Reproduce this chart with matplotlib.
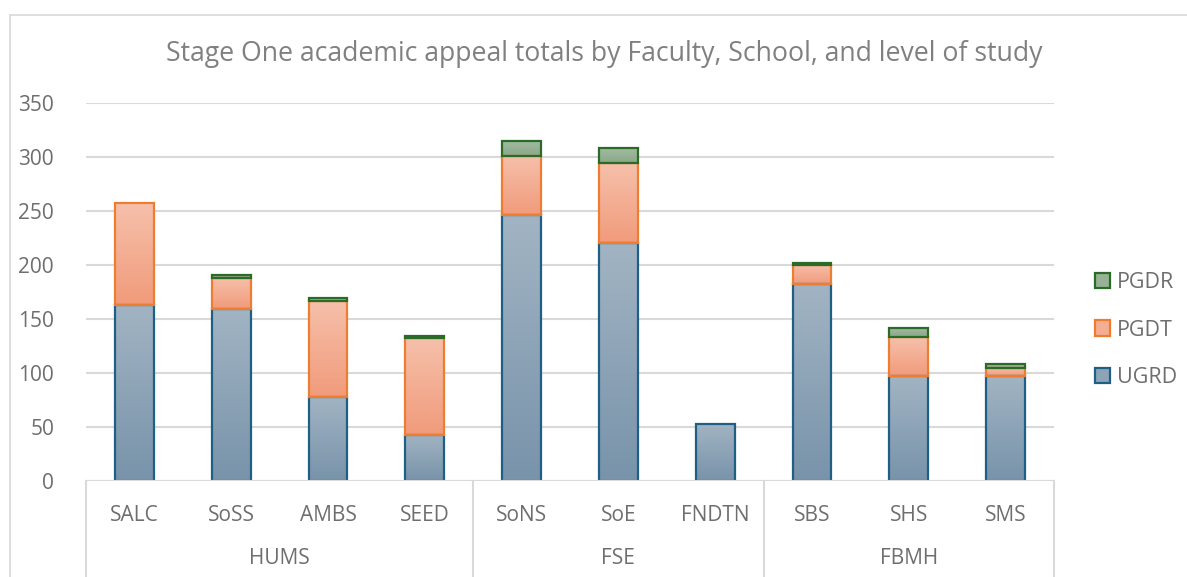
import numpy as np
import matplotlib
matplotlib.use("Agg")
import matplotlib.pyplot as plt
from matplotlib.patches import Patch
from matplotlib.lines import Line2D
from matplotlib.colors import LinearSegmentedColormap
import matplotlib.transforms as mtransforms

plt.rcParams['font.family'] = ['Open Sans', 'DejaVu Sans']

# ---- data ----
schools = ["SALC", "SoSS", "AMBS", "SEED", "SoNS", "SoE", "FNDTN", "SBS", "SHS", "SMS"]
faculties = ["HUMS", "FSE", "FBMH"]
faculty_sizes = [4, 3, 3]
ugrd = [163, 159, 78, 43, 246, 220, 53, 182, 97, 97]
pgdt = [94, 29, 89, 89, 55, 74, 0, 18, 36, 8]
pgdr = [0, 3, 2, 2, 14, 14, 0, 2, 9, 3]
yticks = [0, 50, 100, 150, 200, 250, 300, 350]

W, H = 1187, 577
fig = plt.figure(figsize=(W / 100, H / 100), dpi=100)
ax = fig.add_axes([86 / W, 1 - 481 / H, (1054 - 86) / W, (481 - 103) / H])

grid_c = "#D9D9D9"
text_c = "#6E6E6E"
title_c = "#808080"

series = [
    ("UGRD", ugrd, "#A2B4C3", "#7893AA", "#1F5F85"),
    ("PGDT", pgdt, "#F6C0AB", "#F19B7B", "#ED7D31"),
    ("PGDR", pgdr, "#A3BCA2", "#8AA889", "#2A6B28"),
]

x = np.arange(len(schools))
bottom = np.zeros(len(schools))
grad = np.linspace(1, 0, 256).reshape(-1, 1)
handles = {}
for name, vals, ctop, cbot, edge in series:
    vals = np.array(vals, dtype=float)
    cmap = LinearSegmentedColormap.from_list(name, [cbot, ctop])
    bars = ax.bar(x, vals, bottom=bottom, width=0.4, facecolor="none",
                  edgecolor=edge, linewidth=1.6, zorder=4)
    for b, v in zip(bars, vals):
        if v <= 0:
            b.set_visible(False)
            continue
        x0, y0 = b.get_x(), b.get_y()
        im = ax.imshow(grad, extent=[x0, x0 + b.get_width(), y0, y0 + b.get_height()],
                       aspect="auto", cmap=cmap, vmin=0, vmax=1, zorder=3,
                       interpolation="bilinear")
        im.set_clip_path(b)
    handles[name] = Patch(facecolor=matplotlib.colors.to_hex(cmap(0.5)), edgecolor=edge, linewidth=1.6)
    bottom = bottom + vals

ax.set_xlim(-0.5, len(schools) - 0.5)
ax.set_ylim(0, 350)
ax.set_yticks(yticks)
ax.set_yticklabels([str(t) for t in yticks])
ax.yaxis.grid(True, color=grid_c, linewidth=1.5, zorder=0)
ax.set_axisbelow(True)
for s in ax.spines.values():
    s.set_visible(False)
ax.tick_params(axis="y", length=0, pad=23, labelsize=15, labelcolor=text_c)
ax.set_xticks(x)
ax.set_xticklabels(schools)
ax.tick_params(axis="x", length=0, pad=17, labelsize=15, labelcolor=text_c)

# category axis line
ax.axhline(0, color=grid_c, linewidth=1.5, zorder=5)

# group separators and labels
trans = mtransforms.blended_transform_factory(ax.transData, ax.transAxes)
bounds = np.concatenate([[0], np.cumsum(faculty_sizes)]) - 0.5
for b in bounds:
    ax.add_line(Line2D([b, b], [0, -0.26], transform=trans, color=grid_c,
                       linewidth=1.5, clip_on=False))
for i, f in enumerate(faculties):
    c = (bounds[i] + bounds[i + 1]) / 2
    ax.text(c, -0.205, f, transform=trans, ha="center", va="center",
            fontsize=15, color=text_c)

# title
fig.text(604 / W, 1 - 54 / H, "Stage One academic appeal totals by Faculty, School, and level of study",
         ha="center", va="center", fontsize=19.2, color=title_c)

# legend
leg = fig.legend([handles["PGDR"], handles["PGDT"], handles["UGRD"]],
                 ["PGDR", "PGDT", "UGRD"], loc="center left",
                 bbox_to_anchor=(1076 / W, 1 - 330 / H), frameon=False,
                 fontsize=15.5, labelcolor=text_c, handlelength=0.7, handleheight=0.7,
                 handletextpad=0.3, labelspacing=1.25)

# outer chart border
fig.add_artist(Line2D([10 / W, 10 / W], [0, 1 - 15 / H], transform=fig.transFigure,
                      color=grid_c, linewidth=1.2))
fig.add_artist(Line2D([10 / W, 1], [1 - 15 / H, 1 - 15 / H], transform=fig.transFigure,
                      color=grid_c, linewidth=1.2))

fig.savefig("out.png", dpi=100)
